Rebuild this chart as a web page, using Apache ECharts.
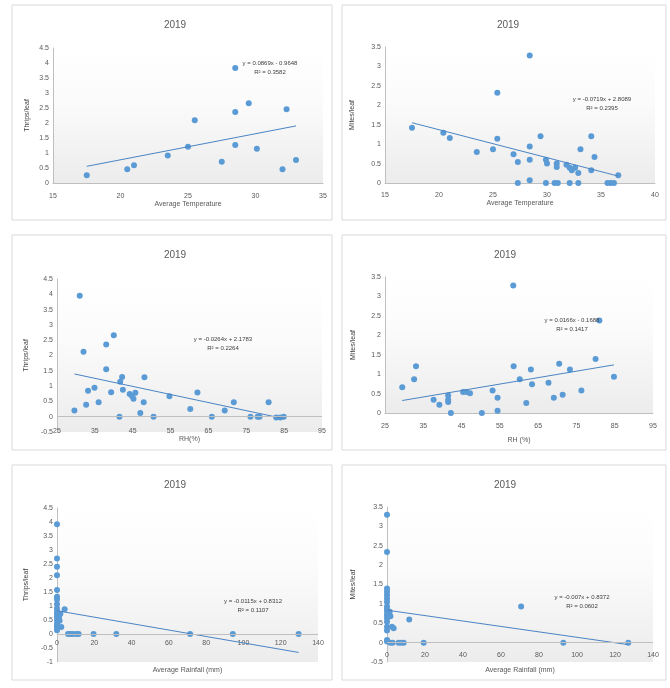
<!DOCTYPE html>
<html><head><meta charset="utf-8">
<script src="https://cdn.jsdelivr.net/npm/echarts@6/dist/echarts.min.js"></script>
<style>html,body{margin:0;padding:0;background:#fff}#c{width:670px;height:688px}</style>
</head><body><div id="c"></div>
<script>
// Panel 1: Average Temperature vs Thrips/leaf
const tempThripsX = [17.5, 20.5, 21.0, 23.5, 25.0, 25.5, 27.5, 28.5, 28.5, 29.5, 30.1, 32.0, 32.3, 33.0, 28.5];
const tempThripsY = [0.26, 0.46, 0.59, 0.92, 1.21, 2.09, 0.71, 2.37, 1.27, 2.66, 1.14, 0.46, 2.46, 0.77, 3.83];
// Panel 2: Average Temperature vs Mites/leaf
const tempMitesX = [17.5, 20.4, 21.0, 23.5, 25.0, 25.4, 25.4, 26.9, 27.3, 27.3, 28.4, 28.4, 28.4, 28.4, 29.4, 29.9, 30.0, 29.9, 30.7, 30.9, 30.9, 31.0, 31.8, 32.1, 32.3, 32.1, 32.6, 32.9, 32.9, 33.1, 34.1, 34.1, 34.4, 35.6, 35.9, 36.2, 36.6];
const tempMitesY = [1.42, 1.29, 1.16, 0.80, 0.87, 2.32, 1.14, 0.74, 0.54, 0.00, 3.28, 0.94, 0.60, 0.07, 1.20, 0.60, 0.50, 0.00, 0.00, 0.50, 0.41, 0.00, 0.47, 0.39, 0.33, 0.00, 0.39, 0.26, 0.00, 0.87, 1.20, 0.33, 0.67, 0.00, 0.00, 0.00, 0.20];
// Panel 3: RH vs Thrips/leaf
const rhThripsX = [29.6, 31.0, 32.0, 32.7, 33.2, 34.9, 36.0, 38.0, 38.0, 39.3, 40.0, 41.5, 41.7, 42.2, 42.4, 44.2, 44.8, 45.2, 45.7, 47.0, 47.9, 48.1, 50.5, 54.7, 60.2, 62.1, 65.9, 69.3, 71.7, 76.1, 78.0, 78.5, 80.9, 82.9, 84.0, 84.9];
const rhThripsY = [0.20, 3.95, 2.12, 0.39, 0.85, 0.95, 0.47, 1.55, 2.36, 0.80, 2.66, 0.00, 1.14, 1.30, 0.88, 0.74, 0.68, 0.59, 0.78, 0.12, 0.47, 1.29, 0.00, 0.67, 0.25, 0.79, 0.00, 0.20, 0.47, 0.00, 0.00, 0.00, 0.47, -0.03, -0.03, 0.00];
// Panel 4: RH vs Mites/leaf
const rhMitesX = [29.5, 32.6, 33.1, 37.7, 39.2, 41.5, 41.5, 41.5, 42.2, 45.4, 46.3, 47.2, 50.3, 53.1, 54.4, 54.4, 58.5, 58.6, 60.2, 61.9, 63.1, 63.4, 67.7, 69.1, 70.5, 71.4, 73.3, 76.3, 80.0, 84.8, 81.0];
const rhMitesY = [0.66, 0.87, 1.20, 0.34, 0.21, 0.45, 0.34, 0.28, 0.00, 0.54, 0.54, 0.51, 0.00, 0.58, 0.39, 0.06, 3.28, 1.20, 0.87, 0.26, 1.12, 0.74, 0.78, 0.39, 1.27, 0.47, 1.12, 0.58, 1.39, 0.93, 2.38];
// Panel 5: Average Rainfall vs Thrips/leaf
const rainThripsX = [0, 0, 0, 0, 0, 0, 0, 0, 0, 0, 0, 0, 0, 0, 0, 0, 0, 1.4, 1.1, 2.3, 1.8, 4.1, 5.9, 6.8, 7.7, 8.9, 10.7, 11.6, 19.6, 31.8, 71.4, 94.3, 129.6];
const rainThripsY = [3.92, 2.70, 2.40, 2.10, 1.57, 1.33, 1.23, 1.06, 0.91, 0.79, 0.71, 0.61, 0.49, 0.37, 0.29, 0.22, 0.13, 0.47, 0.61, 0.25, 0.72, 0.88, 0, 0, 0, 0, 0, 0, 0, 0, 0, 0, 0];
// Panel 6: Average Rainfall vs Mites/leaf
const rainMitesX = [0, 0, 0, 0, 0, 0, 0, 0, 0, 0, 0, 0, 0, 0, 0, 0, 0, 1.4, 1.8, 2.6, 3.5, 1.75, 3.0, 6.1, 7.5, 8.8, 11.7, 19.3, 70.6, 92.8, 127.0];
const rainMitesY = [3.30, 2.34, 1.40, 1.31, 1.23, 1.14, 1.05, 0.93, 0.87, 0.80, 0.71, 0.63, 0.54, 0.41, 0.31, 0.07, 0.03, 0.80, 0.68, 0.41, 0.37, 0, 0, 0, 0, 0, 0.60, 0, 0.93, 0, 0];

// Trendline coefficients [slope, intercept] and displayed equations
const trendCoef = [[0.0869, -0.9648], [-0.0719, 2.8089], [-0.0264, 2.1783], [0.0166, -0.1688], [-0.0115, 0.8312], [-0.007, 0.8372]];
const eqText = ['y = 0.0869x - 0.9648', 'y = -0.0719x + 2.8089', 'y = -0.0264x + 2.1783', 'y = 0.0166x - 0.1688', 'y = -0.0115x + 0.8312', 'y = -0.007x + 0.8372'];
const r2Text = ['R² = 0.3582', 'R² = 0.2395', 'R² = 0.2264', 'R² = 0.1417', 'R² = 0.1107', 'R² = 0.0602'];
const titles = ['2019', '2019', '2019', '2019', '2019', '2019'];
const xNames = ['Average Temperature', 'Average Temperature', 'RH(%)', 'RH (%)', 'Average Rainfall (mm)', 'Average Rainfall (mm)'];
const yNames = ['Thrips/leaf', 'Mites/leaf', 'Thrips/leaf', 'Mites/leaf', 'Thrips/leaf', 'Mites/leaf'];
const xRanges = [[15, 35, 5], [15, 40, 5], [25, 95, 10], [25, 95, 10], [0, 140, 20], [0, 140, 20]];
const yRanges = [[0, 4.5, 0.5], [0, 3.5, 0.5], [-0.5, 4.5, 0.5], [0, 3.5, 0.5], [-1, 4.5, 0.5], [-0.5, 3.5, 0.5]];

const dataX = [tempThripsX, tempMitesX, rhThripsX, rhMitesX, rainThripsX, rainMitesX];
const dataY = [tempThripsY, tempMitesY, rhThripsY, rhMitesY, rainThripsY, rainMitesY];

// layout
const grids = [
  {left: 53, top: 48, width: 270, height: 135},
  {left: 385, top: 47, width: 270, height: 136},
  {left: 57, top: 279, width: 265, height: 153},
  {left: 385, top: 277, width: 268, height: 136},
  {left: 57, top: 508, width: 261, height: 154},
  {left: 387, top: 507, width: 266, height: 155}
];
const frames = [[12,5,320,215],[342,5,324,215],[12,235,320,215],[342,235,324,215],[12,465,320,215],[342,465,324,215]];
const titlePos = [[175,25],[508,25],[175,255],[505,255],[175,485],[505,485]];
const eqPos = [[270,63],[602,99],[223,339],[572,320],[253,601],[582,597]];
const xLabelOffset = [0, 0, -6, 0, -24, -12];
const xLabelMargin = [10, 9, 2, 10, 2, 2];
const xNameGap = [14, 14, 9, 24, 29, 17];
const yNameGap = [22, 29, 27, 28, 27, 30];

const tick = {color: '#595959', fontSize: 7, fontFamily: 'Liberation Sans'};
const option = {
  backgroundColor: '#fff',
  animation: false,
  grid: grids.map(g => Object.assign({show: true, borderWidth: 0,
    backgroundColor: {type: 'linear', x: 0, y: 0, x2: 0, y2: 1, colorStops: [{offset: 0, color: '#ffffff'}, {offset: 0.4, color: '#fbfbfb'}, {offset: 1, color: '#ececec'}]}}, g)),
  xAxis: xRanges.map((r, i) => ({
    type: 'value', gridIndex: i, min: r[0], max: r[1], interval: r[2],
    offset: xLabelOffset[i],
    name: xNames[i], nameLocation: 'middle', nameGap: xNameGap[i],
    nameTextStyle: {color: '#595959', fontSize: 7, fontFamily: 'Liberation Sans'},
    axisLine: {show: yRanges[i][0] === 0, onZero: false, lineStyle: {color: '#bfbfbf'}},
    axisTick: {show: false},
    splitLine: {show: false},
    axisLabel: Object.assign({margin: xLabelMargin[i]}, tick)
  })),
  yAxis: yRanges.map((r, i) => ({
    type: 'value', gridIndex: i, min: r[0], max: r[1], interval: r[2],
    name: yNames[i], nameLocation: 'middle', nameGap: yNameGap[i], nameRotate: 90,
    nameTextStyle: {color: '#404040', fontSize: 7, fontFamily: 'Liberation Sans'},
    axisLine: {show: true, lineStyle: {color: '#bfbfbf'}},
    axisTick: {show: false},
    splitLine: {show: false},
    axisLabel: Object.assign({margin: 4}, tick)
  })),
  series: [],
  graphic: []
};

for (let i = 0; i < 6; i++) {
  const pts = dataX[i].map((x, k) => [x, dataY[i][k]]);
  const s = {
    type: 'scatter', xAxisIndex: i, yAxisIndex: i, data: pts,
    symbolSize: 6, itemStyle: {color: '#5b9bd5', opacity: 1}, z: 3
  };
  if (yRanges[i][0] < 0) {
    s.markLine = {silent: true, symbol: 'none', label: {show: false},
      lineStyle: {color: '#bfbfbf', type: 'solid', width: 1}, data: [{yAxis: 0}]};
  }
  option.series.push(s);
  const xs = Math.min.apply(null, dataX[i]);
  const xe = Math.max.apply(null, dataX[i]);
  const c = trendCoef[i];
  option.series.push({
    type: 'line', xAxisIndex: i, yAxisIndex: i, symbol: 'none', z: 4,
    lineStyle: {color: '#4a84c4', width: 1},
    data: [[xs, c[0] * xs + c[1]], [xe, c[0] * xe + c[1]]]
  });
  const f = frames[i];
  option.graphic.push({type: 'rect', shape: {x: f[0], y: f[1], width: f[2], height: f[3]},
    style: {fill: 'none', stroke: '#d9d9d9', lineWidth: 1}, z: -1});
  option.graphic.push({type: 'text', x: titlePos[i][0], y: titlePos[i][1],
    style: {text: titles[i], fill: '#595959', fontSize: 10, fontFamily: 'Liberation Sans', textAlign: 'center', textVerticalAlign: 'middle'}});
  option.graphic.push({type: 'text', x: eqPos[i][0], y: eqPos[i][1], z: 10,
    style: {text: eqText[i], fill: '#404040', fontSize: 6, fontFamily: 'Liberation Sans', textAlign: 'center', textVerticalAlign: 'middle'}});
  option.graphic.push({type: 'text', x: eqPos[i][0], y: eqPos[i][1] + 9, z: 10,
    style: {text: r2Text[i], fill: '#404040', fontSize: 6, fontFamily: 'Liberation Sans', textAlign: 'center', textVerticalAlign: 'middle'}});
}

const chart = echarts.init(document.getElementById('c'), null, {renderer: 'canvas'});
chart.setOption(option);
</script>
</body></html>
